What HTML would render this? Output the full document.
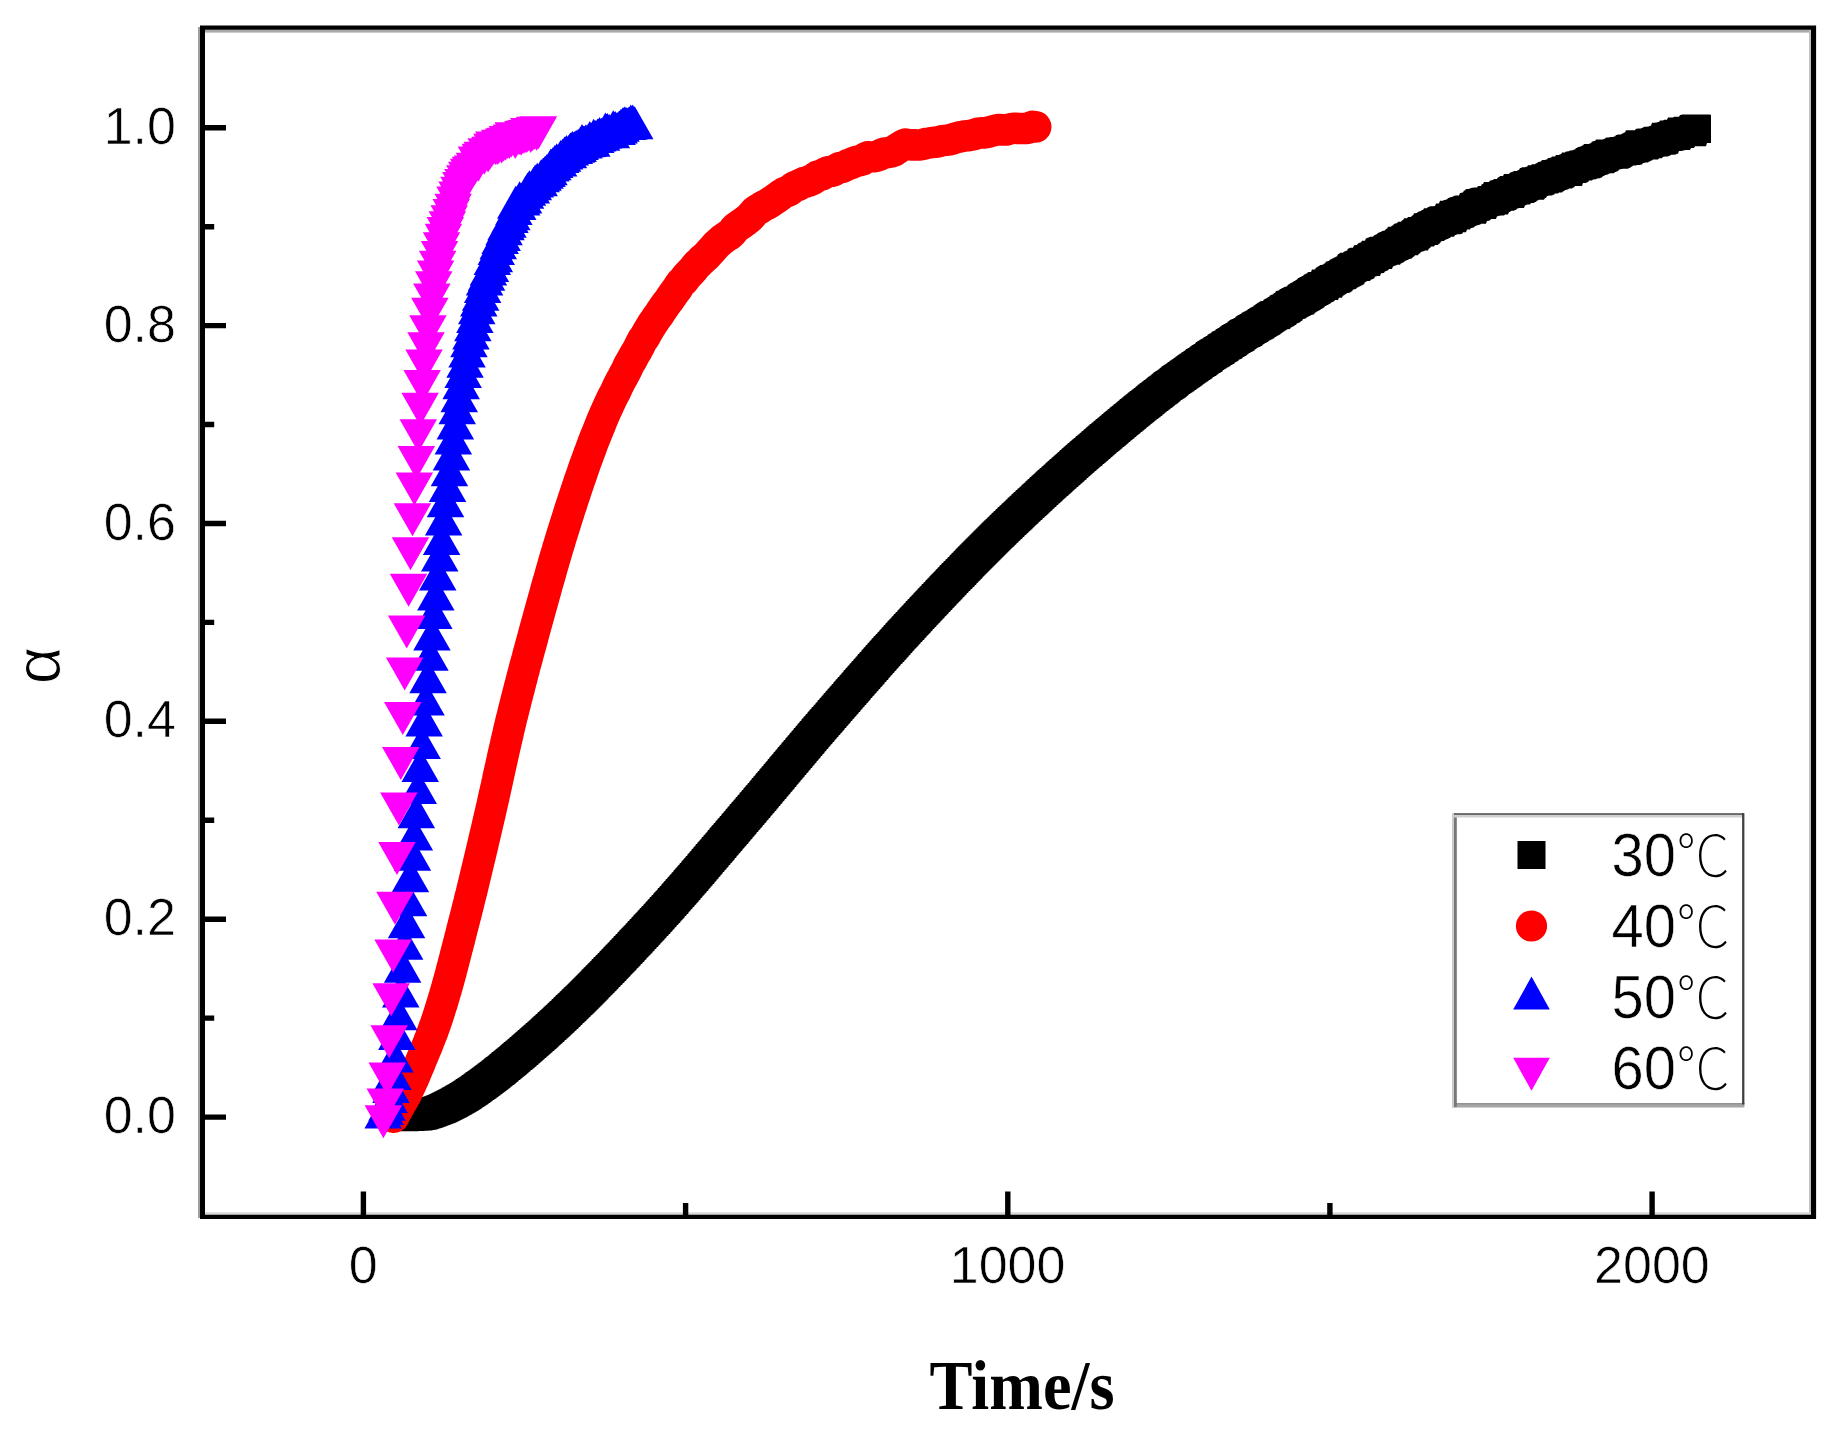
<!DOCTYPE html>
<html lang="en"><head><meta charset="utf-8"><title>α vs Time</title>
<style>html,body{margin:0;padding:0;background:#fff}body{width:1844px;height:1432px;overflow:hidden}svg{display:block}.t{font-family:"Liberation Sans",sans-serif;font-size:52px;fill:#000;stroke:#fff;stroke-width:0.6px}.lg{font-family:"Liberation Sans",sans-serif;font-size:61px;fill:#000;stroke:#fff;stroke-width:0.6px}.dc{font-family:"Noto Sans CJK SC","Noto Sans CJK JP",sans-serif;font-weight:100;stroke:none}</style></head><body>
<svg width="1844" height="1432" viewBox="0 0 1844 1432">
<rect x="0" y="0" width="1844" height="1432" fill="#fff"/>
<g id="series">
<polygon fill="#000" points="386,1103.2 387,1103.2 388,1103.2 389,1103.2 390,1103.2 391,1103.2 392,1103.1 393,1103.1 394,1103 395,1103 396,1102.9 397,1102.9 398,1102.8 399,1102.8 400,1102.7 401,1102.7 402,1102.6 403,1102.6 404,1102.4 405,1102.4 406,1102.1 407,1102.1 408,1101.7 409,1101.7 410,1101.2 411,1101.2 412,1100.6 413,1100.6 414,1099.9 415,1099.9 416,1099.2 417,1099.2 418,1098.5 419,1098.5 420,1097.7 421,1097.7 422,1097 423,1097 424,1096.3 425,1096.3 426,1095.5 427,1095.5 428,1094.7 429,1094.7 430,1093.8 431,1093.8 432,1092.8 433,1092.8 434,1091.8 435,1091.8 436,1090.8 437,1090.8 438,1089.8 439,1089.8 440,1088.7 441,1088.7 442,1087.6 443,1087.6 444,1086.4 445,1086.4 446,1085.3 447,1085.3 448,1084.2 449,1084.2 450,1083 451,1083 452,1081.7 453,1081.7 454,1080.4 455,1080.4 456,1079.1 457,1079.1 458,1077.8 459,1077.8 460,1076.4 461,1076.4 462,1075 463,1075 464,1073.6 465,1073.6 466,1072.1 467,1072.1 468,1070.7 469,1070.7 470,1069.2 471,1069.2 472,1067.7 473,1067.7 474,1066.3 475,1066.3 476,1064.8 477,1064.8 478,1063.3 479,1063.3 480,1061.7 481,1061.7 482,1060.2 483,1060.2 484,1058.6 485,1058.6 486,1057 487,1057 488,1055.4 489,1055.4 490,1053.8 491,1053.8 492,1052.1 493,1052.1 494,1050.5 495,1050.5 496,1048.8 497,1048.8 498,1047.2 499,1047.2 500,1045.5 501,1045.5 502,1043.8 503,1043.8 504,1042.1 505,1042.1 506,1040.4 507,1040.4 508,1038.7 509,1038.7 510,1037 511,1037 512,1035.3 513,1035.3 514,1033.6 515,1033.6 516,1031.8 517,1031.8 518,1030.1 519,1030.1 520,1028.3 521,1028.3 522,1026.6 523,1026.6 524,1024.8 525,1024.8 526,1023 527,1023 528,1021.2 529,1021.2 530,1019.4 531,1019.4 532,1017.6 533,1017.6 534,1015.8 535,1015.8 536,1014 537,1014 538,1012.1 539,1012.1 540,1010.3 541,1010.3 542,1008.4 543,1008.4 544,1006.5 545,1006.5 546,1004.7 547,1004.7 548,1002.8 549,1002.8 550,1000.9 551,1000.9 552,999 553,999 554,997 555,997 556,995.1 557,995.1 558,993.2 559,993.2 560,991.2 561,991.2 562,989.3 563,989.3 564,987.3 565,987.3 566,985.4 567,985.4 568,983.4 569,983.4 570,981.4 571,981.4 572,979.4 573,979.4 574,977.4 575,977.4 576,975.4 577,975.4 578,973.4 579,973.4 580,971.4 581,971.4 582,969.3 583,969.3 584,967.3 585,967.3 586,965.3 587,965.3 588,963.2 589,963.2 590,961.2 591,961.2 592,959.1 593,959.1 594,957 595,957 596,955 597,955 598,952.9 599,952.9 600,950.8 601,950.8 602,948.7 603,948.7 604,946.6 605,946.6 606,944.5 607,944.5 608,942.4 609,942.4 610,940.3 611,940.3 612,938.2 613,938.2 614,936 615,936 616,933.9 617,933.9 618,931.8 619,931.8 620,929.6 621,929.6 622,927.5 623,927.5 624,925.4 625,925.4 626,923.2 627,923.2 628,921.1 629,921.1 630,918.9 631,918.9 632,916.7 633,916.7 634,914.6 635,914.6 636,912.4 637,912.4 638,910.2 639,910.2 640,908.1 641,908.1 642,905.9 643,905.9 644,903.7 645,903.7 646,901.5 647,901.5 648,899.3 649,899.3 650,897.1 651,897.1 652,894.9 653,894.9 654,892.6 655,892.6 656,890.4 657,890.4 658,888.1 659,888.1 660,885.9 661,885.9 662,883.6 663,883.6 664,881.3 665,881.3 666,879 667,879 668,876.8 669,876.8 670,874.5 671,874.5 672,872.2 673,872.2 674,869.8 675,869.8 676,867.5 677,867.5 678,865.2 679,865.2 680,862.9 681,862.9 682,860.6 683,860.6 684,858.2 685,858.2 686,855.9 687,855.9 688,853.5 689,853.5 690,851.2 691,851.2 692,848.8 693,848.8 694,846.5 695,846.5 696,844.1 697,844.1 698,841.8 699,841.8 700,839.4 701,839.4 702,837.1 703,837.1 704,834.7 705,834.7 706,832.4 707,832.4 708,830 709,830 710,827.6 711,827.6 712,825.3 713,825.3 714,822.9 715,822.9 716,820.6 717,820.6 718,818.2 719,818.2 720,815.9 721,815.9 722,813.5 723,813.5 724,811.2 725,811.2 726,808.8 727,808.8 728,806.5 729,806.5 730,804.1 731,804.1 732,801.8 733,801.8 734,799.4 735,799.4 736,797.1 737,797.1 738,794.7 739,794.7 740,792.3 741,792.3 742,790 743,790 744,787.6 745,787.6 746,785.2 747,785.2 748,782.9 749,782.9 750,780.5 751,780.5 752,778.1 753,778.1 754,775.7 755,775.7 756,773.3 757,773.3 758,770.9 759,770.9 760,768.5 761,768.5 762,766.2 763,766.2 764,763.8 765,763.8 766,761.4 767,761.4 768,759 769,759 770,756.6 771,756.6 772,754.2 773,754.2 774,751.8 775,751.8 776,749.4 777,749.4 778,747 779,747 780,744.7 781,744.7 782,742.3 783,742.3 784,739.9 785,739.9 786,737.5 787,737.5 788,735.2 789,735.2 790,732.8 791,732.8 792,730.4 793,730.4 794,728.1 795,728.1 796,725.7 797,725.7 798,723.3 799,723.3 800,721 801,721 802,718.6 803,718.6 804,716.3 805,716.3 806,714 807,714 808,711.6 809,711.6 810,709.3 811,709.3 812,707 813,707 814,704.7 815,704.7 816,702.4 817,702.4 818,700.1 819,700.1 820,697.7 821,697.7 822,695.4 823,695.4 824,693.1 825,693.1 826,690.8 827,690.8 828,688.5 829,688.5 830,686.2 831,686.2 832,683.9 833,683.9 834,681.6 835,681.6 836,679.3 837,679.3 838,677 839,677 840,674.7 841,674.7 842,672.4 843,672.4 844,670.1 845,670.1 846,667.8 847,667.8 848,665.5 849,665.5 850,663.2 851,663.2 852,661 853,661 854,658.7 855,658.7 856,656.4 857,656.4 858,654.1 859,654.1 860,651.9 861,651.9 862,649.6 863,649.6 864,647.3 865,647.3 866,645.1 867,645.1 868,642.8 869,642.8 870,640.6 871,640.6 872,638.3 873,638.3 874,636.1 875,636.1 876,633.9 877,633.9 878,631.7 879,631.7 880,629.4 881,629.4 882,627.2 883,627.2 884,625 885,625 886,622.8 887,622.8 888,620.6 889,620.6 890,618.4 891,618.4 892,616.2 893,616.2 894,614.1 895,614.1 896,611.9 897,611.9 898,609.7 899,609.7 900,607.6 901,607.6 902,605.4 903,605.4 904,603.3 905,603.3 906,601.1 907,601.1 908,599 909,599 910,596.8 911,596.8 912,594.7 913,594.7 914,592.6 915,592.6 916,590.4 917,590.4 918,588.3 919,588.3 920,586.2 921,586.2 922,584.1 923,584.1 924,581.9 925,581.9 926,579.8 927,579.8 928,577.7 929,577.7 930,575.6 931,575.6 932,573.5 933,573.5 934,571.4 935,571.4 936,569.3 937,569.3 938,567.2 939,567.2 940,565.1 941,565.1 942,563.1 943,563.1 944,561 945,561 946,558.9 947,558.9 948,556.9 949,556.9 950,554.8 951,554.8 952,552.7 953,552.7 954,550.7 955,550.7 956,548.6 957,548.6 958,546.6 959,546.6 960,544.6 961,544.6 962,542.5 963,542.5 964,540.5 965,540.5 966,538.5 967,538.5 968,536.5 969,536.5 970,534.5 971,534.5 972,532.5 973,532.5 974,530.5 975,530.5 976,528.5 977,528.5 978,526.5 979,526.5 980,524.5 981,524.5 982,522.6 983,522.6 984,520.6 985,520.6 986,518.7 987,518.7 988,516.7 989,516.7 990,514.8 991,514.8 992,512.8 993,512.8 994,510.9 995,510.9 996,509 997,509 998,507.1 999,507.1 1000,505.2 1001,505.2 1002,503.3 1003,503.3 1004,501.4 1005,501.4 1006,499.5 1007,499.5 1008,497.6 1009,497.6 1010,495.7 1011,495.7 1012,493.8 1013,493.8 1014,492 1015,492 1016,490.1 1017,490.1 1018,488.2 1019,488.2 1020,486.4 1021,486.4 1022,484.5 1023,484.5 1024,482.7 1025,482.7 1026,480.8 1027,480.8 1028,479 1029,479 1030,477.1 1031,477.1 1032,475.3 1033,475.3 1034,473.5 1035,473.5 1036,471.6 1037,471.6 1038,469.8 1039,469.8 1040,468 1041,468 1042,466.2 1043,466.2 1044,464.4 1045,464.4 1046,462.6 1047,462.6 1048,460.8 1049,460.8 1050,459 1051,459 1052,457.2 1053,457.2 1054,455.4 1055,455.4 1056,453.7 1057,453.7 1058,451.9 1059,451.9 1060,450.1 1061,450.1 1062,448.3 1063,448.3 1064,446.6 1065,446.6 1066,444.8 1067,444.8 1068,443.1 1069,443.1 1070,441.3 1071,441.3 1072,439.6 1073,439.6 1074,437.9 1075,437.9 1076,436.1 1077,436.1 1078,434.4 1079,434.4 1080,432.7 1081,432.7 1082,430.9 1083,430.9 1084,429.2 1085,429.2 1086,427.5 1087,427.5 1088,425.8 1089,425.8 1090,424.1 1091,424.1 1092,422.4 1093,422.4 1094,420.7 1095,420.7 1096,419 1097,419 1098,417.4 1099,417.4 1100,415.7 1101,415.7 1102,414 1103,414 1104,412.3 1105,412.3 1106,410.7 1107,410.7 1108,409 1109,409 1110,407.3 1111,407.3 1112,405.7 1113,405.7 1114,404 1115,404 1116,402.4 1117,402.4 1118,400.8 1119,400.8 1120,399.1 1121,399.1 1122,397.5 1123,397.5 1124,395.8 1125,395.8 1126,394.3 1127,394.3 1128,392.6 1129,392.6 1130,391.1 1131,391.1 1132,389.4 1133,389.4 1134,387.9 1135,387.9 1136,386.2 1137,386.2 1138,384.6 1139,384.6 1140,383 1141,383 1142,381.5 1143,381.5 1144,380.1 1145,380.1 1146,378.4 1147,378.4 1148,376.8 1149,376.8 1150,375.4 1151,375.4 1152,373.8 1153,373.8 1154,372.1 1155,372.1 1156,370.8 1157,370.8 1158,369.4 1159,369.4 1160,367.7 1161,367.7 1162,366.1 1163,366.1 1164,364.8 1165,364.8 1166,363.6 1167,363.6 1168,362 1169,362 1170,360.6 1171,360.6 1172,359.3 1173,359.3 1174,357.8 1175,357.8 1176,356.3 1177,356.3 1178,354.7 1179,354.7 1180,353.4 1181,353.4 1182,351.9 1183,351.9 1184,350.7 1185,350.7 1186,349 1187,349 1188,348.1 1189,348.1 1190,346.4 1191,346.4 1192,345 1193,345 1194,343.9 1195,343.9 1196,341.9 1197,341.9 1198,340.8 1199,340.8 1200,339.5 1201,339.5 1202,338.5 1203,338.5 1204,336.9 1205,336.9 1206,336 1207,336 1208,334.3 1209,334.3 1210,333.2 1211,333.2 1212,331.6 1213,331.6 1214,330.7 1215,330.7 1216,329.1 1217,329.1 1218,328 1219,328 1220,326.5 1221,326.5 1222,325 1223,325 1224,324 1225,324 1226,323.1 1227,323.1 1228,321.2 1229,321.2 1230,319.8 1231,319.8 1232,318.9 1233,318.9 1234,317.9 1235,317.9 1236,316.2 1237,316.2 1238,315.1 1239,315.1 1240,314 1241,314 1242,312.6 1243,312.6 1244,311.6 1245,311.6 1246,310.6 1247,310.6 1248,309 1249,309 1250,307.8 1251,307.8 1252,306.8 1253,306.8 1254,305.3 1255,305.3 1256,303.8 1257,303.8 1258,302.5 1259,302.5 1260,301.3 1261,301.3 1262,301.1 1263,301.1 1264,299.2 1265,299.2 1266,298.2 1267,298.2 1268,297 1269,297 1270,295.2 1271,295.2 1272,294.5 1273,294.5 1274,292.9 1275,292.9 1276,291.1 1277,291.1 1278,290.5 1279,290.5 1280,289 1281,289 1282,288.1 1283,288.1 1284,287.1 1285,287.1 1286,286.6 1287,286.6 1288,284.4 1289,284.4 1290,283.3 1291,283.3 1292,282.3 1293,282.3 1294,281 1295,281 1296,279.7 1297,279.7 1298,278.1 1299,278.1 1300,276.9 1301,276.9 1302,276.1 1303,276.1 1304,274.5 1305,274.5 1306,273.5 1307,273.5 1308,272 1309,272 1310,271.9 1311,271.9 1312,269.5 1313,269.5 1314,269.5 1315,269.5 1316,267.6 1317,267.6 1318,266.2 1319,266.2 1320,265 1321,265 1322,264.7 1323,264.7 1324,263.6 1325,263.6 1326,261.6 1327,261.6 1328,261 1329,261 1330,259.6 1331,259.6 1332,258.4 1333,258.4 1334,257.4 1335,257.4 1336,256.6 1337,256.6 1338,254.1 1339,254.1 1340,252.8 1341,252.8 1342,252.8 1343,252.8 1344,251.6 1345,251.6 1346,250.8 1347,250.8 1348,248.5 1349,248.5 1350,247.7 1351,247.7 1352,247.7 1353,247.7 1354,245.3 1355,245.3 1356,245.1 1357,245.1 1358,243.3 1359,243.3 1360,242.4 1361,242.4 1362,240.8 1363,240.8 1364,240.8 1365,240.8 1366,238.3 1367,238.3 1368,237.6 1369,237.6 1370,236.7 1371,236.7 1372,236.7 1373,236.7 1374,235.2 1375,235.2 1376,234.3 1377,234.3 1378,232.8 1379,232.8 1380,231.9 1381,231.9 1382,231 1383,231 1384,230.5 1385,230.5 1386,228.8 1387,228.8 1388,226.7 1389,226.7 1390,226.7 1391,226.7 1392,225.5 1393,225.5 1394,223.8 1395,223.8 1396,223.3 1397,223.3 1398,221.8 1399,221.8 1400,221.8 1401,221.8 1402,220.2 1403,220.2 1404,218.2 1405,218.2 1406,218.2 1407,218.2 1408,216.9 1409,216.9 1410,216.9 1411,216.9 1412,215.5 1413,215.5 1414,213.3 1415,213.3 1416,213.1 1417,213.1 1418,211.8 1419,211.8 1420,211 1421,211 1422,210.1 1423,210.1 1424,208.3 1425,208.3 1426,208.3 1427,208.3 1428,207.1 1429,207.1 1430,206.2 1431,206.2 1432,206.2 1433,206.2 1434,206.1 1435,206.1 1436,203.6 1437,203.6 1438,203.6 1439,203.6 1440,200.8 1441,200.8 1442,200.8 1443,200.8 1444,200 1445,200 1446,199.4 1447,199.4 1448,198 1449,198 1450,197.3 1451,197.3 1452,196.7 1453,196.7 1454,195.8 1455,195.8 1456,195.4 1457,195.4 1458,195.4 1459,195.4 1460,193 1461,193 1462,192.5 1463,192.5 1464,190.5 1465,190.5 1466,189.1 1467,189.1 1468,189.1 1469,189.1 1470,188.3 1471,188.3 1472,187.8 1473,187.8 1474,187.6 1475,187.6 1476,187.4 1477,187.4 1478,186.1 1479,186.1 1480,186.1 1481,186.1 1482,184.1 1483,184.1 1484,182.1 1485,182.1 1486,182.1 1487,182.1 1488,181.9 1489,181.9 1490,180.4 1491,180.4 1492,180 1493,180 1494,179 1495,179 1496,179 1497,179 1498,177.3 1499,177.3 1500,176 1501,176 1502,176 1503,176 1504,174 1505,174 1506,174 1507,174 1508,174 1509,174 1510,172.4 1511,172.4 1512,171.8 1513,171.8 1514,171 1515,171 1516,171 1517,171 1518,170.1 1519,170.1 1520,168.1 1521,168.1 1522,167.3 1523,167.3 1524,167.3 1525,167.3 1526,166.7 1527,166.7 1528,165.3 1529,165.3 1530,165.3 1531,165.3 1532,164.2 1533,164.2 1534,164.2 1535,164.2 1536,163.2 1537,163.2 1538,162 1539,162 1540,161.4 1541,161.4 1542,159.9 1543,159.9 1544,159.9 1545,159.9 1546,159.4 1547,159.4 1548,158 1549,158 1550,157.7 1551,157.7 1552,156.4 1553,156.4 1554,156.4 1555,156.4 1556,155 1557,155 1558,155 1559,155 1560,154.2 1561,154.2 1562,152.5 1563,152.5 1564,152.4 1565,152.4 1566,151.5 1567,151.5 1568,151.2 1569,151.2 1570,150.5 1571,150.5 1572,150.2 1573,150.2 1574,149.5 1575,149.5 1576,147.9 1577,147.9 1578,147.1 1579,147.1 1580,146.4 1581,146.4 1582,145.5 1583,145.5 1584,144.1 1585,144.1 1586,144.1 1587,144.1 1588,144.1 1589,144.1 1590,143.3 1591,143.3 1592,141.5 1593,141.5 1594,140.9 1595,140.9 1596,139.5 1597,139.5 1598,139.5 1599,139.5 1600,139.5 1601,139.5 1602,139.5 1603,139.5 1604,138.8 1605,138.8 1606,137.4 1607,137.4 1608,137.4 1609,137.4 1610,137 1611,137 1612,136.9 1613,136.9 1614,136.4 1615,136.4 1616,134.9 1617,134.9 1618,134.5 1619,134.5 1620,134.4 1621,134.4 1622,133.6 1623,133.6 1624,132.5 1625,132.5 1626,130.3 1627,130.3 1628,130.3 1629,130.3 1630,130.3 1631,130.3 1632,130.3 1633,130.3 1634,130.3 1635,130.3 1636,128.7 1637,128.7 1638,128.4 1639,128.4 1640,128.4 1641,128.4 1642,127.7 1643,127.7 1644,126.8 1645,126.8 1646,126.8 1647,126.8 1648,126.4 1649,126.4 1650,125.8 1651,125.8 1652,122.8 1653,122.8 1654,122.8 1655,122.8 1656,122.6 1657,122.6 1658,122 1659,122 1660,120.4 1661,120.4 1662,120.4 1663,120.4 1664,119.7 1665,119.7 1666,119.7 1667,119.7 1668,117.4 1669,117.4 1670,117.4 1671,117.4 1672,117.4 1673,117.4 1674,116.8 1675,116.8 1676,116.8 1677,116.8 1678,116.8 1679,116.8 1680,115.1 1681,115.1 1682,114.6 1683,114.6 1684,114.6 1685,114.6 1686,114.6 1687,114.6 1688,114.6 1689,114.6 1690,114.6 1691,114.6 1692,114.6 1693,114.6 1694,114.6 1695,114.6 1696,114.6 1697,114.6 1698,114.6 1699,114.6 1700,114.6 1701,114.6 1702,114.6 1703,114.6 1704,114.6 1705,114.6 1706,114.6 1707,114.6 1708,114.6 1709,114.6 1710,114.6 1711,114.9 1711,142.9 1710,142.9 1709,142.9 1708,143.1 1707,143.1 1706,146.3 1705,146.3 1704,146.3 1703,146.3 1702,146.3 1701,146.3 1700,146.3 1699,146.3 1698,146.3 1697,146.3 1696,146.3 1695,146.3 1694,148 1693,148 1692,148 1691,148 1690,150.1 1689,150.1 1688,150.1 1687,150.1 1686,150.1 1685,150.1 1684,150.6 1683,150.6 1682,151.1 1681,151.1 1680,151.1 1679,151.1 1678,153.8 1677,153.8 1676,154.4 1675,154.4 1674,154.8 1673,154.8 1672,154.8 1671,154.8 1670,155.7 1669,155.7 1668,156.4 1667,156.4 1666,156.4 1665,156.4 1664,156.7 1663,156.7 1662,158.3 1661,158.3 1660,158.3 1659,158.3 1658,159.5 1657,159.5 1656,159.5 1655,159.5 1654,159.5 1653,159.5 1652,160.5 1651,160.5 1650,161.6 1649,161.6 1648,162.4 1647,162.4 1646,162.5 1645,162.5 1644,162.9 1643,162.9 1642,164.4 1641,164.4 1640,164.9 1639,164.9 1638,165 1637,165 1636,165.6 1635,165.6 1634,165.6 1633,165.6 1632,166.8 1631,166.8 1630,168 1629,168 1628,168.7 1627,168.7 1626,168.8 1625,168.8 1624,168.8 1623,168.8 1622,168.9 1621,168.9 1620,169.5 1619,169.5 1618,171.3 1617,171.3 1616,172.1 1615,172.1 1614,173.3 1613,173.3 1612,173.3 1611,173.3 1610,173.5 1609,173.5 1608,174.4 1607,174.4 1606,175.1 1605,175.1 1604,175.9 1603,175.9 1602,177.5 1601,177.5 1600,178.2 1599,178.2 1598,178.5 1597,178.5 1596,179.2 1595,179.2 1594,179.5 1593,179.5 1592,180.4 1591,180.4 1590,180.5 1589,180.5 1588,182.2 1587,182.2 1586,183 1585,183 1584,183 1583,183 1582,186.1 1581,186.1 1580,186.1 1579,186.1 1578,186.1 1577,186.1 1576,186.1 1575,186.1 1574,187.4 1573,187.4 1572,188.5 1571,188.5 1570,188.5 1569,188.5 1568,189.4 1567,189.4 1566,190 1565,190 1564,191.2 1563,191.2 1562,192.4 1561,192.4 1560,192.4 1559,192.4 1558,193.4 1557,193.4 1556,193.4 1555,193.4 1554,194.7 1553,194.7 1552,195.4 1551,195.4 1550,195.4 1549,195.4 1548,196.1 1547,196.1 1546,198.1 1545,198.1 1544,199.8 1543,199.8 1542,199.8 1541,199.8 1540,199.8 1539,199.8 1538,200.4 1537,200.4 1536,202.1 1535,202.1 1534,202.9 1533,202.9 1532,202.9 1531,202.9 1530,204.4 1529,204.4 1528,204.4 1527,204.4 1526,205.3 1525,205.3 1524,207.9 1523,207.9 1522,207.9 1521,207.9 1520,208 1519,208 1518,208.4 1517,208.4 1516,209.9 1515,209.9 1514,210.7 1513,210.7 1512,210.7 1511,210.7 1510,212.1 1509,212.1 1508,214.4 1507,214.4 1506,214.4 1505,214.4 1504,215.4 1503,215.4 1502,215.6 1501,215.6 1500,215.8 1499,215.8 1498,216.3 1497,216.3 1496,219 1495,219 1494,219 1493,219 1492,219 1491,219 1490,220.5 1489,220.5 1488,221 1487,221 1486,223.8 1485,223.8 1484,223.8 1483,223.8 1482,223.8 1481,223.8 1480,224.7 1479,224.7 1478,225.3 1477,225.3 1476,226 1475,226 1474,227.4 1473,227.4 1472,228 1471,228 1470,229.6 1469,229.6 1468,229.6 1467,229.6 1466,232.3 1465,232.3 1464,232.3 1463,232.3 1462,234.1 1461,234.1 1460,234.3 1459,234.3 1458,234.3 1457,234.3 1456,235.1 1455,235.1 1454,236.7 1453,236.7 1452,236.7 1451,236.7 1450,238.1 1449,238.1 1448,239 1447,239 1446,239.8 1445,239.8 1444,241.1 1443,241.1 1442,241.3 1441,241.3 1440,243.5 1439,243.5 1438,245.1 1437,245.1 1436,245.1 1435,245.1 1434,246.5 1433,246.5 1432,246.5 1431,246.5 1430,248.2 1429,248.2 1428,250.6 1427,250.6 1426,250.6 1425,250.6 1424,251.3 1423,251.3 1422,251.8 1421,251.8 1420,253.5 1419,253.5 1418,255.2 1417,255.2 1416,255.2 1415,255.2 1414,256.8 1413,256.8 1412,258.5 1411,258.5 1410,259 1409,259 1408,259.9 1407,259.9 1406,260.8 1405,260.8 1404,262.3 1403,262.3 1402,263.2 1401,263.2 1400,264.7 1399,264.7 1398,264.7 1397,264.7 1396,265.6 1395,265.6 1394,266.3 1393,266.3 1392,269.1 1391,269.1 1390,269.1 1389,269.1 1388,270.4 1387,270.4 1386,271.3 1385,271.3 1384,273.1 1383,273.1 1382,273.3 1381,273.3 1380,275.9 1379,275.9 1378,275.9 1377,275.9 1376,276.5 1375,276.5 1374,278.8 1373,278.8 1372,279.6 1371,279.6 1370,280.9 1369,280.9 1368,280.9 1367,280.9 1366,282.1 1365,282.1 1364,284.6 1363,284.6 1362,285.4 1361,285.4 1360,286.4 1359,286.4 1358,287.6 1357,287.6 1356,289 1355,289 1354,289.6 1353,289.6 1352,291.6 1351,291.6 1350,292.7 1349,292.7 1348,293 1347,293 1346,294.2 1345,294.2 1344,295.6 1343,295.6 1342,297.8 1341,297.8 1340,297.8 1339,297.8 1338,299.9 1337,299.9 1336,300 1335,300 1334,301.5 1333,301.5 1332,302.5 1331,302.5 1330,304.1 1329,304.1 1328,304.9 1327,304.9 1326,306.1 1325,306.1 1324,307.7 1323,307.7 1322,309 1321,309 1320,310.3 1319,310.3 1318,311.3 1317,311.3 1316,312.4 1315,312.4 1314,314.6 1313,314.6 1312,315.1 1311,315.1 1310,316.1 1309,316.1 1308,317 1307,317 1306,318.5 1305,318.5 1304,319.1 1303,319.1 1302,320.9 1301,320.9 1300,322.5 1299,322.5 1298,323.2 1297,323.2 1296,325 1295,325 1294,326.2 1293,326.2 1292,327.2 1291,327.2 1290,329.1 1289,329.1 1288,329.3 1287,329.3 1286,330.5 1285,330.5 1284,331.8 1283,331.8 1282,333.3 1281,333.3 1280,334.8 1279,334.8 1278,335.8 1277,335.8 1276,337 1275,337 1274,338.6 1273,338.6 1272,339.6 1271,339.6 1270,340.6 1269,340.6 1268,342 1267,342 1266,343.1 1265,343.1 1264,344.2 1263,344.2 1262,345.9 1261,345.9 1260,346.9 1259,346.9 1258,347.8 1257,347.8 1256,349.2 1255,349.2 1254,351.1 1253,351.1 1252,352 1251,352 1250,353 1249,353 1248,354.5 1247,354.5 1246,356 1245,356 1244,357.1 1243,357.1 1242,358.7 1241,358.7 1240,359.6 1239,359.6 1238,361.2 1237,361.2 1236,362.3 1235,362.3 1234,364 1233,364 1232,364.9 1231,364.9 1230,366.5 1229,366.5 1228,367.5 1227,367.5 1226,368.8 1225,368.8 1224,369.9 1223,369.9 1222,371.9 1221,371.9 1220,373 1219,373 1218,374.4 1217,374.4 1216,376.1 1215,376.1 1214,377 1213,377 1212,378.7 1211,378.7 1210,379.9 1209,379.9 1208,381.4 1207,381.4 1206,382.7 1205,382.7 1204,384.3 1203,384.3 1202,385.8 1201,385.8 1200,387.3 1199,387.3 1198,388.6 1197,388.6 1196,390 1195,390 1194,391.6 1193,391.6 1192,392.8 1191,392.8 1190,394.1 1189,394.1 1188,395.7 1187,395.7 1186,397.4 1185,397.4 1184,398.8 1183,398.8 1182,400.1 1181,400.1 1180,401.8 1179,401.8 1178,403.4 1177,403.4 1176,404.8 1175,404.8 1174,406.4 1173,406.4 1172,408.1 1171,408.1 1170,409.5 1169,409.5 1168,411 1167,411 1166,412.6 1165,412.6 1164,414.2 1163,414.2 1162,415.9 1161,415.9 1160,417.4 1159,417.4 1158,419.1 1157,419.1 1156,420.6 1155,420.6 1154,422.3 1153,422.3 1152,423.8 1151,423.8 1150,425.5 1149,425.5 1148,427.1 1147,427.1 1146,428.8 1145,428.8 1144,430.4 1143,430.4 1142,432 1141,432 1140,433.7 1139,433.7 1138,435.3 1137,435.3 1136,437 1135,437 1134,438.7 1133,438.7 1132,440.3 1131,440.3 1130,442 1129,442 1128,443.7 1127,443.7 1126,445.4 1125,445.4 1124,447 1123,447 1122,448.7 1121,448.7 1120,450.4 1119,450.4 1118,452.1 1117,452.1 1116,453.8 1115,453.8 1114,455.5 1113,455.5 1112,457.2 1111,457.2 1110,458.9 1109,458.9 1108,460.7 1107,460.7 1106,462.4 1105,462.4 1104,464.1 1103,464.1 1102,465.9 1101,465.9 1100,467.6 1099,467.6 1098,469.3 1097,469.3 1096,471.1 1095,471.1 1094,472.8 1093,472.8 1092,474.6 1091,474.6 1090,476.3 1089,476.3 1088,478.1 1087,478.1 1086,479.9 1085,479.9 1084,481.7 1083,481.7 1082,483.4 1081,483.4 1080,485.2 1079,485.2 1078,487 1077,487 1076,488.8 1075,488.8 1074,490.6 1073,490.6 1072,492.4 1071,492.4 1070,494.2 1069,494.2 1068,496 1067,496 1066,497.8 1065,497.8 1064,499.6 1063,499.6 1062,501.5 1061,501.5 1060,503.3 1059,503.3 1058,505.1 1057,505.1 1056,507 1055,507 1054,508.8 1053,508.8 1052,510.7 1051,510.7 1050,512.5 1049,512.5 1048,514.4 1047,514.4 1046,516.2 1045,516.2 1044,518.1 1043,518.1 1042,520 1041,520 1040,521.8 1039,521.8 1038,523.7 1037,523.7 1036,525.6 1035,525.6 1034,527.5 1033,527.5 1032,529.4 1031,529.4 1030,531.3 1029,531.3 1028,533.2 1027,533.2 1026,535.1 1025,535.1 1024,537 1023,537 1022,538.9 1021,538.9 1020,540.8 1019,540.8 1018,542.8 1017,542.8 1016,544.7 1015,544.7 1014,546.7 1013,546.7 1012,548.6 1011,548.6 1010,550.6 1009,550.6 1008,552.5 1007,552.5 1006,554.5 1005,554.5 1004,556.5 1003,556.5 1002,558.5 1001,558.5 1000,560.5 999,560.5 998,562.5 997,562.5 996,564.5 995,564.5 994,566.5 993,566.5 992,568.5 991,568.5 990,570.5 989,570.5 988,572.6 987,572.6 986,574.6 985,574.6 984,576.6 983,576.6 982,578.7 981,578.7 980,580.7 979,580.7 978,582.8 977,582.8 976,584.9 975,584.9 974,586.9 973,586.9 972,589 971,589 970,591.1 969,591.1 968,593.1 967,593.1 966,595.2 965,595.2 964,597.3 963,597.3 962,599.4 961,599.4 960,601.5 959,601.5 958,603.6 957,603.6 956,605.7 955,605.7 954,607.8 953,607.8 952,609.9 951,609.9 950,612.1 949,612.1 948,614.2 947,614.2 946,616.3 945,616.3 944,618.4 943,618.4 942,620.6 941,620.6 940,622.7 939,622.7 938,624.8 937,624.8 936,627 935,627 934,629.1 933,629.1 932,631.3 931,631.3 930,633.4 929,633.4 928,635.6 927,635.6 926,637.7 925,637.7 924,639.9 923,639.9 922,642.1 921,642.1 920,644.2 919,644.2 918,646.4 917,646.4 916,648.6 915,648.6 914,650.8 913,650.8 912,653 911,653 910,655.2 909,655.2 908,657.4 907,657.4 906,659.7 905,659.7 904,661.9 903,661.9 902,664.1 901,664.1 900,666.3 899,666.3 898,668.6 897,668.6 896,670.8 895,670.8 894,673.1 893,673.1 892,675.3 891,675.3 890,677.6 889,677.6 888,679.9 887,679.9 886,682.1 885,682.1 884,684.4 883,684.4 882,686.7 881,686.7 880,689 879,689 878,691.2 877,691.2 876,693.5 875,693.5 874,695.8 873,695.8 872,698.1 871,698.1 870,700.4 869,700.4 868,702.7 867,702.7 866,705 865,705 864,707.3 863,707.3 862,709.6 861,709.6 860,711.9 859,711.9 858,714.2 857,714.2 856,716.5 855,716.5 854,718.8 853,718.8 852,721.1 851,721.1 850,723.4 849,723.4 848,725.7 847,725.7 846,728.1 845,728.1 844,730.4 843,730.4 842,732.7 841,732.7 840,735 839,735 838,737.3 837,737.3 836,739.6 835,739.6 834,742 833,742 832,744.3 831,744.3 830,746.6 829,746.6 828,749 827,749 826,751.3 825,751.3 824,753.7 823,753.7 822,756.1 821,756.1 820,758.4 819,758.4 818,760.8 817,760.8 816,763.2 815,763.2 814,765.5 813,765.5 812,767.9 811,767.9 810,770.3 809,770.3 808,772.7 807,772.7 806,775 805,775 804,777.4 803,777.4 802,779.8 801,779.8 800,782.2 799,782.2 798,784.6 797,784.6 796,787 795,787 794,789.4 793,789.4 792,791.8 791,791.8 790,794.2 789,794.2 788,796.5 787,796.5 786,798.9 785,798.9 784,801.3 783,801.3 782,803.7 781,803.7 780,806.1 779,806.1 778,808.5 777,808.5 776,810.9 775,810.9 774,813.2 773,813.2 772,815.6 771,815.6 770,818 769,818 768,820.3 767,820.3 766,822.7 765,822.7 764,825.1 763,825.1 762,827.4 761,827.4 760,829.8 759,829.8 758,832.1 757,832.1 756,834.5 755,834.5 754,836.8 753,836.8 752,839.2 751,839.2 750,841.5 749,841.5 748,843.9 747,843.9 746,846.2 745,846.2 744,848.6 743,848.6 742,850.9 741,850.9 740,853.3 739,853.3 738,855.6 737,855.6 736,858 735,858 734,860.4 733,860.4 732,862.7 731,862.7 730,865.1 729,865.1 728,867.4 727,867.4 726,869.8 725,869.8 724,872.1 723,872.1 722,874.5 721,874.5 720,876.8 719,876.8 718,879.2 717,879.2 716,881.5 715,881.5 714,883.9 713,883.9 712,886.2 711,886.2 710,888.6 709,888.6 708,890.9 707,890.9 706,893.2 705,893.2 704,895.5 703,895.5 702,897.8 701,897.8 700,900.2 699,900.2 698,902.5 697,902.5 696,904.8 695,904.8 694,907 693,907 692,909.3 691,909.3 690,911.6 689,911.6 688,913.9 687,913.9 686,916.1 685,916.1 684,918.4 683,918.4 682,920.6 681,920.6 680,922.9 679,922.9 678,925.1 677,925.1 676,927.3 675,927.3 674,929.5 673,929.5 672,931.7 671,931.7 670,933.9 669,933.9 668,936.1 667,936.1 666,938.2 665,938.2 664,940.4 663,940.4 662,942.6 661,942.6 660,944.7 659,944.7 658,946.9 657,946.9 656,949.1 655,949.1 654,951.2 653,951.2 652,953.4 651,953.4 650,955.5 649,955.5 648,957.6 647,957.6 646,959.8 645,959.8 644,961.9 643,961.9 642,964 641,964 640,966.2 639,966.2 638,968.3 637,968.3 636,970.4 635,970.4 634,972.5 633,972.5 632,974.6 631,974.6 630,976.7 629,976.7 628,978.8 627,978.8 626,980.9 625,980.9 624,983 623,983 622,985 621,985 620,987.1 619,987.1 618,989.2 617,989.2 616,991.2 615,991.2 614,993.3 613,993.3 612,995.3 611,995.3 610,997.3 609,997.3 608,999.4 607,999.4 606,1001.4 605,1001.4 604,1003.4 603,1003.4 602,1005.4 601,1005.4 600,1007.4 599,1007.4 598,1009.4 597,1009.4 596,1011.4 595,1011.4 594,1013.4 593,1013.4 592,1015.3 591,1015.3 590,1017.3 589,1017.3 588,1019.2 587,1019.2 586,1021.2 585,1021.2 584,1023.1 583,1023.1 582,1025 581,1025 580,1027 579,1027 578,1028.9 577,1028.9 576,1030.8 575,1030.8 574,1032.7 573,1032.7 572,1034.5 571,1034.5 570,1036.4 569,1036.4 568,1038.3 567,1038.3 566,1040.1 565,1040.1 564,1042 563,1042 562,1043.8 561,1043.8 560,1045.6 559,1045.6 558,1047.4 557,1047.4 556,1049.2 555,1049.2 554,1051 553,1051 552,1052.8 551,1052.8 550,1054.6 549,1054.6 548,1056.3 547,1056.3 546,1058.1 545,1058.1 544,1059.8 543,1059.8 542,1061.6 541,1061.6 540,1063.3 539,1063.3 538,1065 537,1065 536,1066.7 535,1066.7 534,1068.4 533,1068.4 532,1070.1 531,1070.1 530,1071.8 529,1071.8 528,1073.5 527,1073.5 526,1075.2 525,1075.2 524,1076.8 523,1076.8 522,1078.5 521,1078.5 520,1080.1 519,1080.1 518,1081.8 517,1081.8 516,1083.4 515,1083.4 514,1085 513,1085 512,1086.6 511,1086.6 510,1088.2 509,1088.2 508,1089.7 507,1089.7 506,1091.3 505,1091.3 504,1092.8 503,1092.8 502,1094.3 501,1094.3 500,1095.7 499,1095.7 498,1097.2 497,1097.2 496,1098.7 495,1098.7 494,1100.1 493,1100.1 492,1101.6 491,1101.6 490,1103 489,1103 488,1104.4 487,1104.4 486,1105.8 485,1105.8 484,1107.1 483,1107.1 482,1108.4 481,1108.4 480,1109.7 479,1109.7 478,1111 477,1111 476,1112.2 475,1112.2 474,1113.3 473,1113.3 472,1114.4 471,1114.4 470,1115.6 469,1115.6 468,1116.7 467,1116.7 466,1117.8 465,1117.8 464,1118.8 463,1118.8 462,1119.8 461,1119.8 460,1120.8 459,1120.8 458,1121.8 457,1121.8 456,1122.7 455,1122.7 454,1123.5 453,1123.5 452,1124.3 451,1124.3 450,1125 449,1125 448,1125.7 447,1125.7 446,1126.5 445,1126.5 444,1127.2 443,1127.2 442,1127.9 441,1127.9 440,1128.6 439,1128.6 438,1129.2 437,1129.2 436,1129.7 435,1129.7 434,1130.1 433,1130.1 432,1130.4 431,1130.4 430,1130.6 429,1130.6 428,1130.7 427,1130.7 426,1130.8 425,1130.8 424,1130.9 423,1130.9 422,1131 421,1131 420,1131.1 419,1131.1 418,1131.2 417,1131.2 416,1131.2 415,1131.2 414,1131.2 413,1131.2 412,1131.2 411,1131.2 410,1131.2 409,1131.2 408,1131.2 407,1131.2 406,1131.2 405,1131.2 404,1131.2 403,1131.2 402,1131.2 401,1131.2 400,1131.2 399,1131.2 398,1131.2 397,1131.2 396,1131.2 395,1131.2 394,1131.2 393,1131.2 392,1131.2 391,1131.2 390,1131.2 389,1131.2 388,1131.2 387,1131.2 386,1131.2"/>
<polyline fill="none" stroke="#f00" stroke-width="31.5" stroke-linecap="round" stroke-linejoin="round" points="393.5,1117.2 394.9,1114.5 396.3,1111.9 397.7,1109.2 399.2,1106.6 400.7,1104 402.2,1101.4 403.7,1098.8 405.2,1096.2 406.5,1093.6 407.8,1090.9 409.1,1088.2 410.4,1085.5 411.6,1082.7 412.9,1080 414.1,1077.2 415.3,1074.5 416.4,1071.7 417.6,1068.9 418.8,1066.2 419.9,1063.4 421,1060.6 422.2,1057.8 423.3,1055.1 424.5,1052.3 425.6,1049.5 426.8,1046.7 427.9,1043.9 429,1041.1 430.1,1038.4 431.2,1035.6 432.3,1032.8 433.3,1029.9 434.3,1027.1 435.4,1024.3 436.3,1021.5 437.3,1018.6 438.2,1015.8 439.1,1013 440,1010.1 440.9,1007.2 441.8,1004.4 442.7,1001.5 443.5,998.7 444.4,995.8 445.2,992.9 446.1,990 446.9,987.1 447.7,984.2 448.5,981.4 449.3,978.5 450.1,975.6 450.9,972.7 451.6,969.8 452.4,966.9 453.2,963.9 453.9,961 454.7,958.1 455.4,955.2 456.2,952.3 456.9,949.4 457.7,946.5 458.4,943.6 459.2,940.7 459.9,937.8 460.7,934.8 461.4,931.9 462.1,929 462.9,926.1 463.6,923.2 464.4,920.3 465.1,917.4 465.9,914.5 466.6,911.6 467.3,908.7 468.1,905.8 468.8,902.9 469.5,899.9 470.2,897 471,894.1 471.7,891.2 472.4,888.3 473.1,885.4 473.8,882.5 474.5,879.6 475.2,876.6 475.9,873.7 476.6,870.8 477.3,867.9 478,865 478.7,862 479.4,859.1 480.1,856.2 480.8,853.3 481.5,850.4 482.2,847.4 482.9,844.5 483.5,841.6 484.2,838.7 484.9,835.8 485.6,832.8 486.3,829.9 487,827 487.6,824.1 488.3,821.2 489,818.2 489.7,815.3 490.4,812.4 491,809.5 491.7,806.5 492.4,803.6 493,800.7 493.7,797.8 494.3,794.8 495,791.9 495.6,789 496.3,786 496.9,783.1 497.6,780.2 498.2,777.2 498.8,774.3 499.5,771.4 500.1,768.5 500.8,765.5 501.4,762.6 502.1,759.7 502.7,756.7 503.4,753.8 504,750.9 504.7,748 505.4,745 506,742.1 506.7,739.2 507.4,736.3 508.1,733.3 508.7,730.4 509.4,727.5 510.1,724.6 510.8,721.7 511.5,718.8 512.3,715.8 513,712.9 513.7,710 514.4,707.1 515.2,704.2 515.9,701.3 516.6,698.4 517.4,695.5 518.1,692.6 518.9,689.7 519.6,686.8 520.4,683.9 521.1,681 521.9,678.1 522.6,675.2 523.4,672.2 524.2,669.3 524.9,666.4 525.7,663.5 526.5,660.6 527.3,657.8 528,654.9 528.8,652 529.6,649.1 530.4,646.2 531.2,643.3 532,640.4 532.8,637.5 533.5,634.6 534.3,631.7 535.1,628.8 535.9,625.9 536.7,623 537.5,620.1 538.3,617.2 539.1,614.3 539.9,611.4 540.7,608.5 541.5,605.7 542.3,602.8 543.1,599.9 543.9,597 544.7,594.1 545.5,591.2 546.3,588.3 547.1,585.4 547.9,582.5 548.8,579.6 549.6,576.7 550.4,573.9 551.2,571 552,568.1 552.9,565.2 553.7,562.3 554.5,559.4 555.4,556.6 556.2,553.7 557.1,550.8 557.9,547.9 558.8,545.1 559.7,542.2 560.5,539.3 561.4,536.4 562.3,533.6 563.2,530.7 564.1,527.9 565,525 565.9,522.1 566.8,519.3 567.7,516.4 568.6,513.6 569.5,510.7 570.4,507.9 571.4,505 572.3,502.1 573.2,499.3 574.2,496.4 575.1,493.6 576.1,490.7 577,487.8 578,485 578.9,482.1 579.9,479.2 580.9,476.5 581.9,473.7 582.8,470.9 583.8,467.9 584.8,465.1 585.8,462.4 586.9,459.5 587.9,456.7 588.9,453.8 590,451.1 591,448.3 592.1,445.3 593.1,442.5 594.2,439.7 595.3,437 596.4,434.3 597.5,431.6 598.6,428.9 599.7,426.2 600.9,423.2 602,420.3 603.2,417.4 604.4,414.6 605.6,412 606.8,409.3 608.1,406.6 609.3,403.9 610.6,401.2 611.9,398.4 613.2,395.8 614.5,393.5 615.8,390.8 617.2,387.7 618.5,384.9 619.9,382.2 621.2,379.7 622.6,377.4 623.9,374.8 625.3,372.2 626.7,369.5 628.1,366.4 629.5,363.6 631,361.2 632.4,358.7 633.8,356 635.3,353.4 636.8,351 638.2,348.4 639.7,345.5 641.2,342.4 642.7,339.7 644.3,337.7 645.8,335.1 647.4,332.1 649,329.5 650.5,326.9 652.1,324.3 653.7,322 655.4,319.5 657,317.1 658.7,314.9 660.3,312.4 662,309.9 663.7,307.4 665.4,304.8 667.1,302.6 668.9,300.4 670.6,297.8 672.4,295.3 674.2,292.6 676,290.2 677.8,287.7 679.7,284.6 681.5,282.2 683.4,280.6 685.3,278.1 687.2,275.6 689.2,273.7 691.1,271.7 693.1,269.5 695.1,266.9 697.1,264.5 699.2,262.7 701.3,260.5 703.4,258.5 705.5,256.8 707.6,254.7 709.8,252.2 711.9,249.8 714.1,247.4 716.3,244.9 718.5,242.9 720.7,240.9 723,239 725.2,237.4 727.5,235.9 729.7,234.6 732,232.3 734.3,229.3 736.5,227.2 738.8,225.6 741.1,224 743.4,222.5 745.8,220.7 748.1,218.8 750.4,216.8 752.8,214 755.2,211.3 757.6,209.6 760,208.3 762.4,206.7 764.9,205.3 767.4,204.2 769.8,202.6 772.3,200.9 774.8,199.3 777.4,197.5 779.9,195.6 782.4,193.8 785,192.2 787.6,191.4 790.2,190.1 792.9,187.7 795.6,186.2 798.2,185.4 801,183.9 803.7,182.6 806.4,181.9 809.1,181 811.9,179.8 814.6,178.1 817.4,176.2 820.2,175.4 822.9,174.6 825.7,172.8 828.4,171.7 831.2,171.4 834,170.7 836.8,169.1 839.6,167.7 842.4,167.3 845.3,166 848.1,164.6 850.9,163.6 853.8,162.4 856.6,161.2 859.5,160.7 862.3,160 865.2,158.1 868,156.8 870.9,156.9 873.8,156.7 876.6,156.2 879.5,155.3 882.4,153.8 885.3,152.9 888.2,152.6 891.1,152.1 894,151 896.9,149 899.8,147.1 902.7,145.3 905.6,144.1 908.5,144.5 911.5,145 914.4,144.8 917.3,144.9 920.3,145 923.2,144.3 926.2,143.4 929.1,143 932.1,142.5 935,142.3 938,141.9 940.9,141 943.9,140.4 946.8,140.2 949.8,139.8 952.7,139 955.7,137.9 958.6,137.1 961.6,136.6 964.5,136 967.5,135.8 970.4,135.4 973.4,134.8 976.4,133.8 979.3,132.9 982.3,132.8 985.2,132.9 988.2,132.3 991.2,131.3 994.1,130.6 997.1,129.9 1000.1,129.4 1003.1,130.1 1006,130.1 1009,129.2 1012,128.4 1015,128.2 1018,128.5 1021,128.4 1023.9,128.4 1026.9,128.5 1029.9,127.5 1032.9,126.2 1035.7,126.9"/>
<path fill="#00f" d="M383.1,1095.6l18.8,33h-37.5zM385.1,1091.9l18.8,33h-37.5zM387,1087.7l18.8,33h-37.5zM389,1079.9l18.8,33h-37.5zM390.9,1070l18.8,33h-37.5zM392.9,1056.9l18.8,33h-37.5zM394.8,1039.4l18.8,33h-37.5zM396.8,1017l18.8,33h-37.5zM398.7,997.2l18.8,33h-37.5zM400.7,974.4l18.8,33h-37.5zM402.6,949.8l18.8,33h-37.5zM404.6,926.7l18.8,33h-37.5zM406.5,905.3l18.8,33h-37.5zM408.5,883.3l18.8,33h-37.5zM410.4,859.2l18.8,33h-37.5zM412.4,837.7l18.8,33h-37.5zM414.3,817.4l18.8,33h-37.5zM416.3,795.3l18.8,33h-37.5zM418.2,771.1l18.8,33h-37.5zM420.2,748.9l18.8,33h-37.5zM422.1,726l18.8,33h-37.5zM424.1,703.6l18.8,33h-37.5zM426,682.5l18.8,33h-37.5zM428,660.2l18.8,33h-37.5zM429.9,637.7l18.8,33h-37.5zM431.9,617.6l18.8,33h-37.5zM433.8,596.1l18.8,33h-37.5zM435.8,577.5l18.8,33h-37.5zM437.7,557.5l18.8,33h-37.5zM439.7,538.5l18.8,33h-37.5zM441.6,521.9l18.8,33h-37.5zM443.6,502.5l18.8,33h-37.5zM445.5,484.3l18.8,33h-37.5zM447.5,469.1l18.8,33h-37.5zM449.4,453.3l18.8,33h-37.5zM451.4,437.4l18.8,33h-37.5zM453.3,421.5l18.8,33h-37.5zM455.3,406.6l18.8,33h-37.5zM457.2,391.2l18.8,33h-37.5zM459.2,379.2l18.8,33h-37.5zM461.1,366.3l18.8,33h-37.5zM463.1,355.1l18.8,33h-37.5zM465,344.8l18.8,33h-37.5zM467,334.5l18.8,33h-37.5zM468.9,324.3l18.8,33h-37.5zM470.9,316.5l18.8,33h-37.5zM472.8,308.3l18.8,33h-37.5zM474.8,299.9l18.8,33h-37.5zM476.7,291.2l18.8,33h-37.5zM478.7,283.6l18.8,33h-37.5zM480.6,277.8l18.8,33h-37.5zM482.6,269.9l18.8,33h-37.5zM484.5,262.4l18.8,33h-37.5zM486.5,257.7l18.8,33h-37.5zM488.4,252.6l18.8,33h-37.5zM490.4,249.1l18.8,33h-37.5zM492.3,242.1l18.8,33h-37.5zM494.3,239.2l18.8,33h-37.5zM496.2,232l18.8,33h-37.5zM498.2,226.3l18.8,33h-37.5zM500.1,220.9l18.8,33h-37.5zM502.1,217.9l18.8,33h-37.5zM504,212.2l18.8,33h-37.5zM506,207.3l18.8,33h-37.5zM507.9,204.7l18.8,33h-37.5zM509.9,200l18.8,33h-37.5zM511.8,197.2l18.8,33h-37.5zM513.8,192.1l18.8,33h-37.5zM515.7,185.7l18.8,33h-37.5zM517.7,186.9l18.8,33h-37.5zM519.6,181.3l18.8,33h-37.5zM521.6,182.5l18.8,33h-37.5zM523.5,180.5l18.8,33h-37.5zM525.5,175.8l18.8,33h-37.5zM527.4,172.7l18.8,33h-37.5zM529.4,170.3l18.8,33h-37.5zM531.3,170.6l18.8,33h-37.5zM533.3,167.2l18.8,33h-37.5zM535.2,164.6l18.8,33h-37.5zM537.2,162.8l18.8,33h-37.5zM539.1,163.3l18.8,33h-37.5zM541.1,159.3l18.8,33h-37.5zM543,157.7l18.8,33h-37.5zM545,155.8l18.8,33h-37.5zM546.9,154.1l18.8,33h-37.5zM548.9,152.3l18.8,33h-37.5zM550.8,148.5l18.8,33h-37.5zM552.8,147.3l18.8,33h-37.5zM554.7,144.9l18.8,33h-37.5zM556.7,143.2l18.8,33h-37.5zM558.6,143.5l18.8,33h-37.5zM560.6,140l18.8,33h-37.5zM562.5,138.8l18.8,33h-37.5zM564.5,136.6l18.8,33h-37.5zM566.4,135.1l18.8,33h-37.5zM568.4,135.2l18.8,33h-37.5zM570.3,132.5l18.8,33h-37.5zM572.3,131.1l18.8,33h-37.5zM574.2,130.9l18.8,33h-37.5zM576.2,129.7l18.8,33h-37.5zM578.1,128.9l18.8,33h-37.5zM580.1,127.1l18.8,33h-37.5zM582,123.9l18.8,33h-37.5zM584,125.5l18.8,33h-37.5zM585.9,124.3l18.8,33h-37.5zM587.9,123.9l18.8,33h-37.5zM589.8,120.9l18.8,33h-37.5zM591.8,123.7l18.8,33h-37.5zM593.7,118.7l18.8,33h-37.5zM595.7,120l18.8,33h-37.5zM597.6,118.4l18.8,33h-37.5zM599.6,117l18.8,33h-37.5zM601.5,117.7l18.8,33h-37.5zM603.5,115.7l18.8,33h-37.5zM605.4,112.6l18.8,33h-37.5zM607.4,113.1l18.8,33h-37.5zM609.3,114.1l18.8,33h-37.5zM611.3,115.2l18.8,33h-37.5zM613.2,110.3l18.8,33h-37.5zM615.2,111.1l18.8,33h-37.5zM617.1,112l18.8,33h-37.5zM619.1,110.4l18.8,33h-37.5zM621,108.8l18.8,33h-37.5zM623,107.1l18.8,33h-37.5zM624.9,106.2l18.8,33h-37.5zM626.9,106.9l18.8,33h-37.5zM628.8,106.8l18.8,33h-37.5zM630.8,104.4l18.8,33h-37.5zM632.7,104.6l18.8,33h-37.5zM634.7,106.2l18.8,33h-37.5z"/>
<path fill="#f0f" d="M383.4,1138.3l-18.8,-33h37.5zM385.3,1121.5l-18.8,-33h37.5zM387.3,1095.4l-18.8,-33h37.5zM389.2,1058.3l-18.8,-33h37.5zM391.2,1016.2l-18.8,-33h37.5zM393.1,972.4l-18.8,-33h37.5zM395,924.7l-18.8,-33h37.5zM397,875l-18.8,-33h37.5zM398.9,825.5l-18.8,-33h37.5zM400.8,779.9l-18.8,-33h37.5zM402.8,734.9l-18.8,-33h37.5zM404.7,690.4l-18.8,-33h37.5zM406.7,648.4l-18.8,-33h37.5zM408.6,606.7l-18.8,-33h37.5zM410.5,570.3l-18.8,-33h37.5zM412.5,536.3l-18.8,-33h37.5zM414.4,505.5l-18.8,-33h37.5zM416.4,478.9l-18.8,-33h37.5zM418.3,452.2l-18.8,-33h37.5zM420.2,425.7l-18.8,-33h37.5zM422.2,403l-18.8,-33h37.5zM424.1,382.4l-18.8,-33h37.5zM426.1,365.3l-18.8,-33h37.5zM428,348.2l-18.8,-33h37.5zM429.9,330.8l-18.8,-33h37.5zM431.9,316.5l-18.8,-33h37.5zM433.8,304.2l-18.8,-33h37.5zM435.7,293.6l-18.8,-33h37.5zM437.7,283.8l-18.8,-33h37.5zM439.6,273.9l-18.8,-33h37.5zM441.6,265.3l-18.8,-33h37.5zM443.5,256.8l-18.8,-33h37.5zM445.4,250.1l-18.8,-33h37.5zM447.4,244.2l-18.8,-33h37.5zM449.3,238.2l-18.8,-33h37.5zM451.3,232l-18.8,-33h37.5zM453.2,226.8l-18.8,-33h37.5zM455.1,219.5l-18.8,-33h37.5zM457.1,214.6l-18.8,-33h37.5zM459,209.7l-18.8,-33h37.5zM460.9,204.9l-18.8,-33h37.5zM462.9,201.9l-18.8,-33h37.5zM464.8,198.3l-18.8,-33h37.5zM466.8,194.8l-18.8,-33h37.5zM468.7,191.7l-18.8,-33h37.5zM470.6,189.8l-18.8,-33h37.5zM472.6,188.6l-18.8,-33h37.5zM474.5,185.7l-18.8,-33h37.5zM476.5,179.5l-18.8,-33h37.5zM478.4,181.8l-18.8,-33h37.5zM480.3,176.7l-18.8,-33h37.5zM482.3,174.8l-18.8,-33h37.5zM484.2,174.7l-18.8,-33h37.5zM486.2,171.3l-18.8,-33h37.5zM488.1,172.4l-18.8,-33h37.5zM490,169.8l-18.8,-33h37.5zM492,166.8l-18.8,-33h37.5zM493.9,164.6l-18.8,-33h37.5zM495.8,165.3l-18.8,-33h37.5zM497.8,165l-18.8,-33h37.5zM499.7,162.8l-18.8,-33h37.5zM501.7,163.6l-18.8,-33h37.5zM503.6,161.4l-18.8,-33h37.5zM505.5,160.8l-18.8,-33h37.5zM507.5,158.9l-18.8,-33h37.5zM509.4,158.9l-18.8,-33h37.5zM511.4,157.6l-18.8,-33h37.5zM513.3,155.2l-18.8,-33h37.5zM515.2,158.9l-18.8,-33h37.5zM517.2,155.7l-18.8,-33h37.5zM519.1,155.3l-18.8,-33h37.5zM521.1,155.8l-18.8,-33h37.5zM523,154l-18.8,-33h37.5zM524.9,153.5l-18.8,-33h37.5zM526.9,153.1l-18.8,-33h37.5zM528.8,150.9l-18.8,-33h37.5zM530.7,153l-18.8,-33h37.5zM532.7,151.3l-18.8,-33h37.5zM534.6,149.8l-18.8,-33h37.5zM536.6,150.8l-18.8,-33h37.5zM538.5,149.3l-18.8,-33h37.5z"/>
</g>
<g id="axes">
<rect x="198" y="27" width="2.2" height="1191" fill="#a0a0a0"/>
<rect x="200" y="29.6" width="1615" height="3" fill="#aaa"/>
<rect x="1809" y="27" width="2.2" height="1191" fill="#c0c0c0"/>
<rect x="200" y="1212.3" width="1615" height="2.7" fill="#d8d8d8"/>
<path fill="#000" fill-rule="evenodd" d="M200,25.6H1816.1V1219H200ZM205,29.8V1214.8H1811V29.8Z"/>
<path fill="none" stroke="#000" stroke-width="5.4" d="M203,1117.1H226M203,1018.1H214.2M203,919.2H226M203,820.3H214.2M203,721.3H226M203,622.4H214.2M203,523.5H226M203,424.5H214.2M203,325.6H226M203,226.7H214.2M203,127.7H226M363.4,1216V1191.6M685.6,1216V1203M1007.8,1216V1191.6M1329.9,1216V1203M1652.1,1216V1191.6"/>
</g>
<g id="ticklabels" class="t">
<text x="176" y="1133.2" text-anchor="end">0.0</text>
<text x="176" y="935.3" text-anchor="end">0.2</text>
<text x="176" y="737.4" text-anchor="end">0.4</text>
<text x="176" y="539.6" text-anchor="end">0.6</text>
<text x="176" y="341.7" text-anchor="end">0.8</text>
<text x="176" y="143.8" text-anchor="end">1.0</text>
<text x="363.2" y="1283" text-anchor="middle">0</text>
<text x="1007.6" y="1283" text-anchor="middle">1000</text>
<text x="1651.9" y="1283" text-anchor="middle">2000</text>
</g>
<text transform="translate(1022,1409) scale(0.93,1)" text-anchor="middle" style="font-family:'Liberation Serif',serif;font-weight:bold;font-size:69.3px">Time/s</text>
<text transform="translate(60,665.5) rotate(-90)" text-anchor="middle" style="font-family:'Liberation Sans',sans-serif;font-size:65px;stroke:#fff;stroke-width:1px">α</text>
<g id="legend">
<rect x="1453" y="814" width="291" height="292" fill="#fff"/>
<rect x="1452" y="1103" width="292.4" height="4.5" fill="#a6a6a6"/>
<rect x="1452" y="1103" width="292.4" height="1.4" fill="#929292"/>
<rect x="1452" y="813.1" width="2" height="294" fill="#ccc"/>
<rect x="1454" y="813.1" width="2.8" height="294" fill="#777"/>
<rect x="1454" y="815" width="290" height="2.5" fill="#d0d0d0"/>
<rect x="1454" y="813.1" width="290" height="1.9" fill="#696969"/>
<rect x="1742.1" y="813.1" width="2.3" height="291.4" fill="#404040"/>
<rect x="1517.5" y="841" width="28" height="28" fill="#000"/>
<circle cx="1531.5" cy="926" r="15.6" fill="#f00"/>
<path fill="#00f" d="M1531.5,976.5l18.3,33h-36.6z"/>
<path fill="#f0f" d="M1531.5,1090.8l-18.3,-33h36.6z"/>
<text class="lg" transform="translate(1611.5,876) scale(0.95,1)">30<tspan class="dc" font-size="57">℃</tspan></text>
<text class="lg" transform="translate(1611.5,947) scale(0.95,1)">40<tspan class="dc" font-size="57">℃</tspan></text>
<text class="lg" transform="translate(1611.5,1018) scale(0.95,1)">50<tspan class="dc" font-size="57">℃</tspan></text>
<text class="lg" transform="translate(1611.5,1089) scale(0.95,1)">60<tspan class="dc" font-size="57">℃</tspan></text>
</g>
</svg></body></html>
